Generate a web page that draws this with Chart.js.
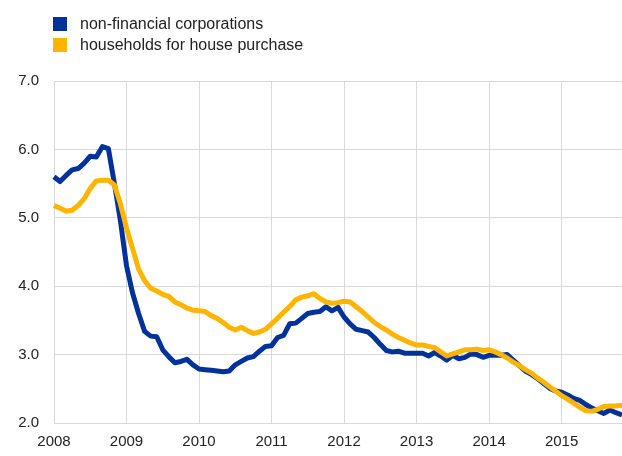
<!DOCTYPE html>
<html>
<head>
<meta charset="utf-8">
<script src="https://cdn.jsdelivr.net/npm/chart.js@4/dist/chart.umd.min.js"></script>
<style>
  body { margin: 0; background: #fff; }
  #wrap { position: relative; width: 622px; height: 456px; }
  #legend { position: absolute; left: 53px; top: 17px; font: 16px "Liberation Sans", Arial, sans-serif; color: #222; }
  #legend div { height: 21px; line-height: 14px; white-space: nowrap; }
  #legend span.box { display: inline-block; width: 14px; height: 14px; vertical-align: top; margin-right: 13px; }
</style>
</head>
<body>
<div id="wrap">
  <canvas id="root" width="622" height="456"></canvas>
  <div id="legend"></div>
</div>
<script>
// monthly, Jan 2008 - Nov 2015
const years = [2008, 2009, 2010, 2011, 2012, 2013, 2014, 2015]
const yTicks = [2, 3, 4, 5, 6, 7]

const nfc = [
  5.60, 5.53, 5.62, 5.70, 5.72, 5.80, 5.90, 5.89, 6.04, 6.01, 5.50, 4.95,
  4.30, 3.90, 3.60, 3.34, 3.27, 3.26, 3.07, 2.97, 2.88, 2.90, 2.93, 2.85,
  2.79, 2.78, 2.77, 2.76, 2.75, 2.76, 2.85, 2.90, 2.95, 2.97, 3.05, 3.12,
  3.13, 3.25, 3.28, 3.45, 3.46, 3.53, 3.60, 3.62, 3.63, 3.70, 3.64, 3.69,
  3.55, 3.45, 3.37, 3.35, 3.33, 3.25, 3.15, 3.06, 3.04, 3.05, 3.02, 3.02,
  3.02, 3.02, 2.98, 3.03, 2.98, 2.92, 2.99, 2.94, 2.96, 3.01, 3.00, 2.96,
  2.99, 2.99, 2.99, 3.00, 2.92, 2.84, 2.76, 2.71, 2.65, 2.58, 2.51, 2.47,
  2.45, 2.41, 2.36, 2.33, 2.27, 2.22, 2.18, 2.14, 2.19, 2.15, 2.12
]

const houses = [
  5.18, 5.14, 5.10, 5.11, 5.18, 5.28, 5.43, 5.54, 5.55, 5.55, 5.48, 5.20,
  4.85, 4.55, 4.25, 4.08, 3.97, 3.93, 3.88, 3.85, 3.77, 3.73, 3.68, 3.65,
  3.64, 3.63, 3.57, 3.53, 3.47, 3.40, 3.36, 3.40, 3.35, 3.31, 3.33, 3.37,
  3.45, 3.53, 3.62, 3.70, 3.80, 3.84, 3.86, 3.89, 3.82, 3.77, 3.75, 3.76,
  3.78, 3.77, 3.70, 3.63, 3.55, 3.47, 3.41, 3.36, 3.30, 3.25, 3.21, 3.17,
  3.14, 3.14, 3.12, 3.10, 3.04, 2.98, 3.01, 3.04, 3.07, 3.07, 3.08, 3.06,
  3.07, 3.04, 3.00, 2.95, 2.89, 2.84, 2.78, 2.73, 2.66, 2.60, 2.53, 2.47,
  2.40, 2.35, 2.29, 2.23, 2.18, 2.17, 2.20, 2.24, 2.25, 2.25, 2.26
]

const seriesNames = ['non-financial corporations', 'households for house purchase']
const colors = ['#003299', '#ffb400']

// month labels like 2008-01
let months = []
years.forEach(function (y) {
    for (let m = 1; m <= 12; m++) {
        months.push(y + '-' + (m < 10 ? '0' + m : m))
    }
})
months = months.slice(0, nfc.length)

const legend = document.getElementById('legend')
seriesNames.forEach(function (name, i) {
    const row = document.createElement('div')
    row.innerHTML = '<span class="box" style="background:' + colors[i] + '"></span>' + name
    legend.appendChild(row)
})

const font = { family: '"Liberation Sans", Arial, sans-serif', size: 15 }
const gridColor = '#d9d9d9'

let ctx = document.getElementById('root').getContext('2d')

let config = {
    type: 'line',
    data: {
        labels: months,
        datasets: [
            {
                label: seriesNames[0],
                data: nfc,
                borderColor: colors[0],
                borderWidth: 5,
                pointRadius: 0,
                tension: 0,
                borderJoinStyle: 'round',
                order: 2
            },
            {
                // drawn over the blue line
                label: seriesNames[1],
                data: houses,
                borderColor: colors[1],
                borderWidth: 5,
                pointRadius: 0,
                tension: 0,
                borderJoinStyle: 'round',
                order: 1
            }
        ]
    },
    options: {
        responsive: false,
        animation: false,
        layout: { padding: { top: 81, right: 0, left: 0, bottom: 0 } },
        plugins: {
            legend: { display: false },
            tooltip: { enabled: false }
        },
        scales: {
            x: {
                grid: { color: gridColor, drawTicks: false },
                border: { color: gridColor },
                ticks: {
                    autoSkip: false,
                    maxRotation: 0,
                    padding: 10,
                    color: '#222',
                    font: font,
                    callback: function (val) {
                        const l = this.getLabelForValue(val)
                        return l.endsWith('-01') ? l.slice(0, 4) : null
                    }
                },
                afterFit: function (scale) { scale.height = 33 }
            },
            y: {
                min: yTicks[0],
                max: yTicks[yTicks.length - 1],
                grid: { color: gridColor, drawTicks: false },
                border: { display: false },
                ticks: {
                    stepSize: 1,
                    padding: 15,
                    color: '#222',
                    font: font,
                    callback: function (v) { return v.toFixed(1) }
                },
                afterFit: function (scale) { scale.width = 54 }
            }
        }
    }
}

let myChart = new Chart(ctx, config)
</script>
</body>
</html>
